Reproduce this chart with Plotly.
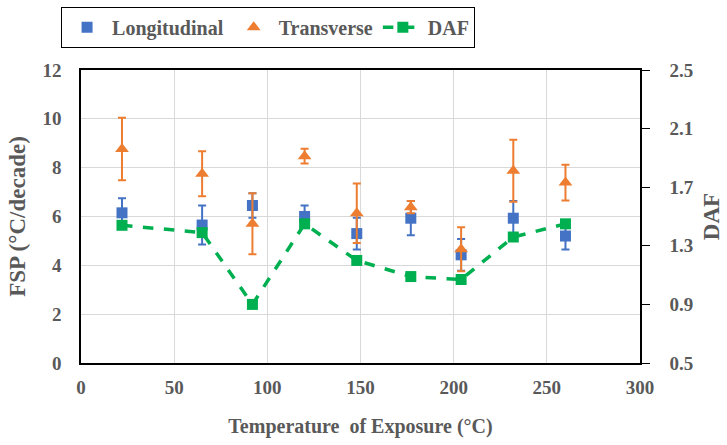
import plotly.graph_objects as go

temps = [22, 65, 92, 120, 148, 177, 204, 232, 260]
long_vals = [6.15, 5.65, 6.45, 6.0, 5.3, 5.93, 4.43, 5.93, 5.2]
long_err = [0.6, 0.8, 0.5, 0.45, 0.65, 0.7, 0.65, 0.7, 0.55]
trans_vals = [8.76, 7.75, 5.7, 8.47, 6.13, 6.38, 4.66, 7.87, 7.39]
trans_err = [1.28, 0.92, 1.25, 0.3, 1.22, 0.25, 0.9, 1.27, 0.73]
daf_vals = [1.44, 1.39, 0.9, 1.45, 1.2, 1.09, 1.07, 1.36, 1.45]

font_family = "Liberation Serif"
txt_color = "#595959"

fig = go.Figure()
fig.add_trace(go.Scatter(
    x=temps, y=long_vals, mode="markers", name="Longitudinal",
    marker=dict(symbol="square", size=11, color="#4472C4"),
    error_y=dict(type="data", array=long_err, color="#4472C4", thickness=2, width=4),
))
fig.add_trace(go.Scatter(
    x=temps, y=trans_vals, mode="markers", name="Transverse",
    marker=dict(symbol="triangle-up", size=12, color="#ED7D31"),
    error_y=dict(type="data", array=trans_err, color="#ED7D31", thickness=2, width=4),
))
fig.add_trace(go.Scatter(
    x=temps, y=daf_vals, mode="lines+markers", name="DAF", yaxis="y2",
    line=dict(color="#00B050", width=3.5, dash="dash"),
    marker=dict(symbol="square", size=11, color="#00B050"),
))

fig.update_layout(
    width=727, height=445,
    margin=dict(l=81, r=87, t=70, b=82, autoexpand=False),
    paper_bgcolor="white", plot_bgcolor="white",
    font=dict(family=font_family, color=txt_color, size=17),
    showlegend=True,
    legend=dict(
        orientation="h", xref="container", yref="container",
        x=0.084, y=0.985, xanchor="left", yanchor="top",
        bordercolor="black", borderwidth=1,
        font=dict(family=font_family, size=20, color=txt_color, weight="bold"),
        itemwidth=40, tracegroupgap=0,
    ),
    xaxis=dict(
        range=[0, 300], dtick=50, tick0=0, automargin=False,
        showgrid=True, gridcolor="#d9d9d9", gridwidth=1,
        showline=True, linecolor="black", linewidth=1.5, mirror=True,
        ticks="", zeroline=False, ticklabelstandoff=6,
        tickfont=dict(family=font_family, size=19, color=txt_color, weight="bold"),
        title=dict(text="Temperature  of Exposure (°C)", standoff=22,
                   font=dict(family=font_family, size=20, color=txt_color, weight="bold")),
    ),
    yaxis=dict(
        range=[0, 12], dtick=2, tick0=0, automargin=False,
        showgrid=True, gridcolor="#d9d9d9", gridwidth=1,
        showline=True, linecolor="black", linewidth=1.5, mirror=True,
        ticks="", zeroline=False, ticklabelstandoff=14,
        tickfont=dict(family=font_family, size=19, color=txt_color, weight="bold"),
        title=dict(text="FSP (°C/decade)", standoff=10,
                   font=dict(family=font_family, size=23, color=txt_color, weight="bold")),
    ),
    yaxis2=dict(
        range=[0.5, 2.5], dtick=0.4, tick0=0.5, overlaying="y", side="right",
        automargin=False,
        showgrid=False, showline=True, linecolor="black", linewidth=1.5,
        ticks="outside", ticklen=8, tickcolor="black", zeroline=False,
        tickformat=".1f", ticklabelstandoff=16,
        tickfont=dict(family=font_family, size=19, color=txt_color, weight="bold"),
        title=dict(text="DAF", standoff=10,
                   font=dict(family=font_family, size=23, color=txt_color, weight="bold")),
    ),
)

fig.write_html("out.html")
